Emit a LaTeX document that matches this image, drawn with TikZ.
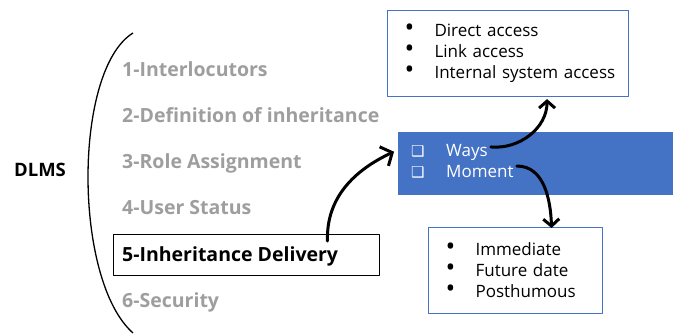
\documentclass[tikz,border=0pt]{standalone}
\usepackage{fontspec}
\setmainfont{Open Sans}
\newfontfamily\symbfont{DejaVu Sans}
\usetikzlibrary{arrows.meta,positioning}
\definecolor{dlmsgray}{RGB}{158,158,158}
\definecolor{dlmsblue}{RGB}{68,114,196}
\newcommand{\bitem}[1]{\hspace*{17pt}\makebox[30pt][l]{\fontsize{26}{21}\selectfont\textbullet}#1}
\newcommand{\cbox}{{\symbfont\fontsize{15}{15}\selectfont ❑}}

\begin{document}
\begin{tikzpicture}[x=1pt,y=1pt,line join=round]
  \tikzstyle{phase}=[anchor=base west, inner sep=0pt, text=dlmsgray,
    font=\fontsize{19.5}{23}\selectfont\bfseries]
  \tikzstyle{listbox}=[draw=dlmsblue, line width=1.1pt, anchor=north west,
    inner sep=0pt, align=left, font=\fontsize{17}{21}\selectfont]
  \tikzstyle{waysitem}=[anchor=base west, inner sep=0pt, text=white,
    font=\fontsize{17}{21}\selectfont]
  \tikzstyle{curly}=[line width=3pt, line cap=round,
    -{Straight Barb[length=7pt,width=16pt]}]

  \useasboundingbox (0,0) rectangle (673,-335);

  % left part
  \node[inner sep=0pt, font=\fontsize{18.5}{22}\selectfont\bfseries] (dlms) at (40,-170) {DLMS};
  \draw[line width=1.3pt] (133,-33) .. controls (73,-70) and (73,-280) .. (133,-333);

  \node[phase] (p1) at (122,-76)  {1-Interlocutors};
  \node[phase] (p2) at (122,-122) {2-Definition of inheritance};
  \node[phase] (p3) at (122,-168) {3-Role Assignment};
  \node[phase] (p4) at (122,-214) {4-User Status};
  \node[draw, line width=1pt, anchor=north west, inner sep=0pt,
        minimum width=266pt, minimum height=41pt] (deliv box) at (113,-234) {};
  \node[phase, text=black] (p5) at (122,-261) {5-Inheritance Delivery};
  \node[phase] (p6) at (122,-307) {6-Security};

  % right part
  \node[listbox, text width=241pt, minimum height=86pt] (access) at (387,-10)
    {\bitem{Direct access}\\\bitem{Link access}\\\bitem{Internal system access}};

  \node[fill=dlmsblue, anchor=north west, inner sep=0pt,
        minimum width=275pt, minimum height=63pt] (ways box) at (398,-132) {};
  \node[waysitem] (ways mark)   at (411,-156) {\cbox};
  \node[waysitem] (ways)        at (446,-156) {Ways};
  \node[waysitem] (moment mark) at (411,-177) {\cbox};
  \node[waysitem] (moment)      at (446,-177) {Moment};

  \node[listbox, text width=174pt, minimum height=86pt] (when) at (428,-227)
    {\bitem{Immediate}\\\bitem{Future date}\\\bitem{Posthumous}};

  % arrows
  \draw[curly, -{Straight Barb[length=9pt,width=21pt]}]
    ([xshift=81pt,yshift=-7pt]deliv box.north) to[out=92,in=205]
    ([xshift=-4pt,yshift=12pt]ways box.west);
  \draw[curly] ([xshift=3pt,yshift=5pt]ways.east) to[out=-5,in=-90]
    ([xshift=39pt,yshift=-2pt]access.south);
  \draw[curly] ([xshift=3pt,yshift=5pt]moment.east) to[out=0,in=92]
    ([xshift=36pt,yshift=-1pt]when.north);
\end{tikzpicture}
\end{document}
